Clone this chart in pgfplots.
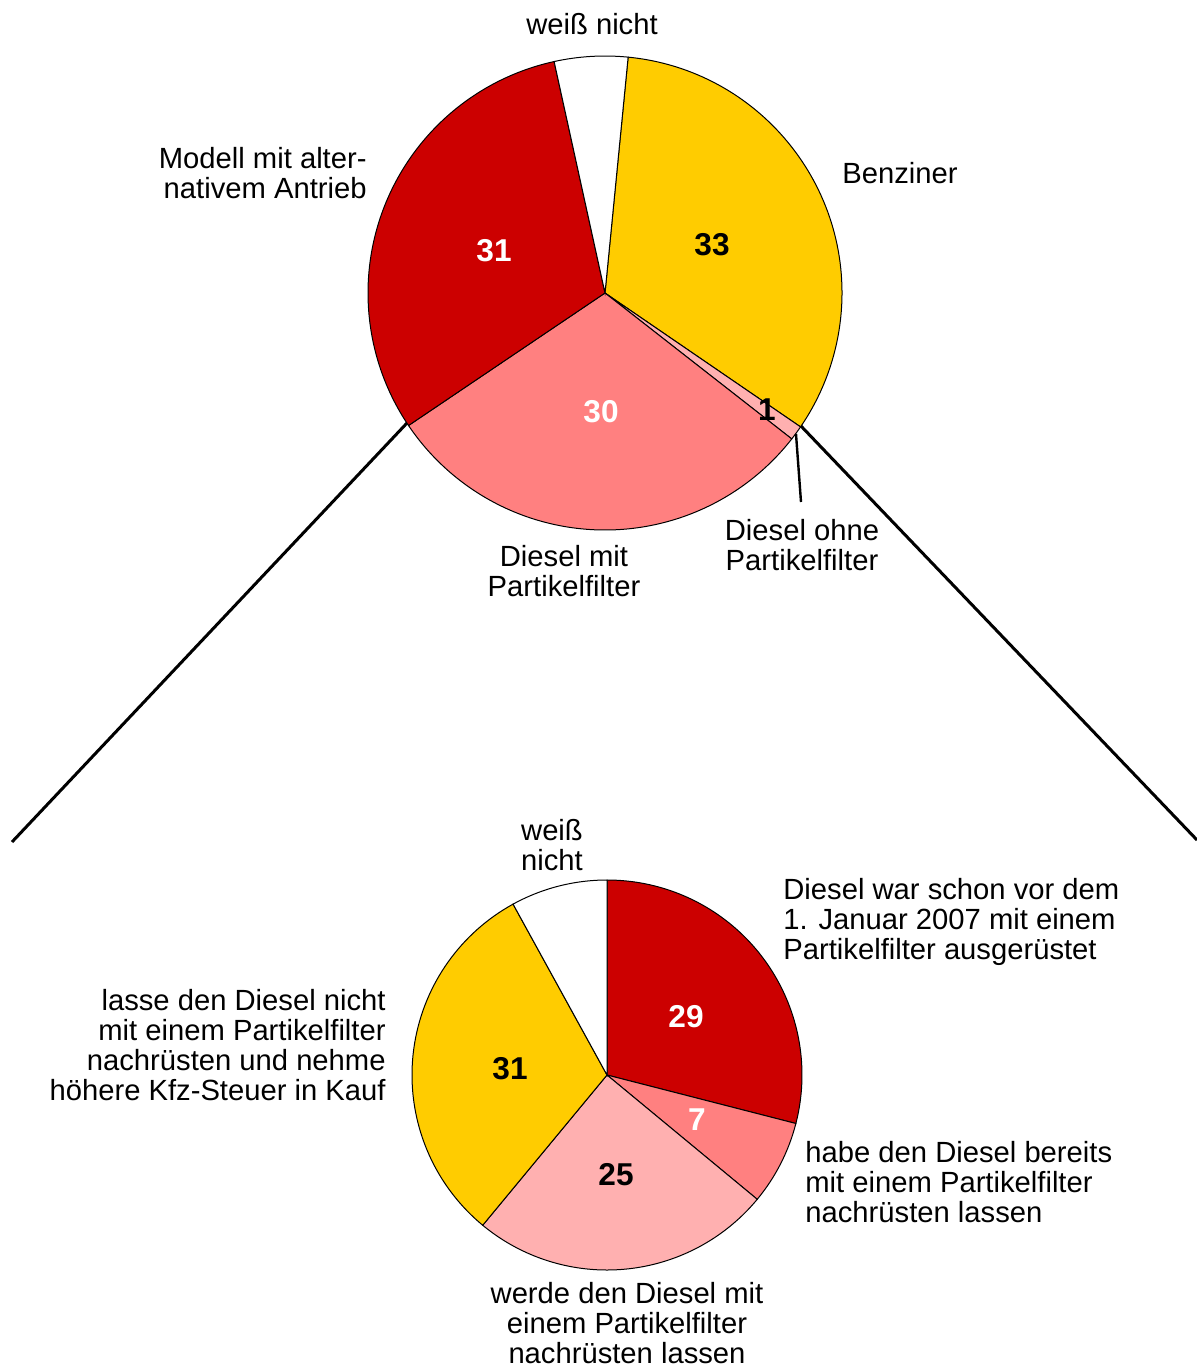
\documentclass[border=0pt]{standalone}
\usepackage{pgfplots}
\pgfplotsset{compat=1.18}
\usepackage{fontspec}
\setmainfont{Liberation Sans}

\definecolor{pred}{HTML}{CC0000}
\definecolor{pyellow}{HTML}{FFCC00}
\definecolor{psalmon}{HTML}{FF8080}
\definecolor{ppink}{HTML}{FFB0B0}

\tikzset{
  lbl/.style={font=\fontsize{14.6}{15}\selectfont, align=center, inner sep=0pt},
  num/.style={font=\fontsize{15.8}{15}\selectfont\bfseries, inner sep=0pt},
}

% one slice per value, clockwise from the start angle
% #1 cx, #2 cy (px), #3 radius (px), #4 start angle, #5 list value/colour
\newcommand\drawpie[5]{%
  \xdef\curang{#4}%
  \foreach \v/\c in {#5} {%
    \pgfmathsetmacro\nextang{\curang-3.6*\v}%
    \edef\temp{\noexpand\filldraw[fill=\c, draw=black, line width=0.5pt]
      (axis cs:#1,#2) -- ++(\curang:#3*0.5pt)
      arc[start angle=\curang, end angle=\nextang, radius=#3*0.5pt] -- cycle;}%
    \temp
    \global\let\curang\nextang
  }%
}

\begin{document}
\begin{tikzpicture}
\begin{axis}[
  at={(0,0)}, anchor=south west,
  scale only axis,
  width=598.5pt, height=685pt,
  xmin=0, xmax=1197, ymin=0, ymax=1370,
  y dir=reverse,
  axis lines=none,
  clip=false,
]
% connecting lines
\draw[line width=1.5pt] (axis cs:407,423) -- (axis cs:12,842);
\draw[line width=1.5pt] (axis cs:800,425) -- (axis cs:1197,840);

% upper pie: Benziner, Diesel ohne, Diesel mit, alternativer Antrieb, weiss nicht
\drawpie{605}{293}{237}{84.4}{33/pyellow, 1/ppink, 30/psalmon, 31/pred, 5/white}
% lower pie
\drawpie{607}{1075}{195}{90}{29/pred, 7/psalmon, 25/ppink, 31/pyellow, 8/white}

\draw[line width=1.2pt] (axis cs:796,434) -- (axis cs:801,502);

% labels upper pie
\node[lbl] at (axis cs:592,24) {weiß nicht};
\node[lbl, anchor=east, align=right] at (axis cs:367,173) {Modell mit alter-\\nativem Antrieb};
\node[lbl, anchor=west] at (axis cs:842,173) {Benziner};
\node[lbl] at (axis cs:564,571) {Diesel mit\\Partikelfilter};
\node[lbl] at (axis cs:802,545) {Diesel ohne\\Partikelfilter};
\node[num] at (axis cs:712,245) {33};
\node[num, text=white] at (axis cs:494,251) {31};
\node[num, text=white] at (axis cs:601,412) {30};
\node[num] at (axis cs:767,410) {1};

% labels lower pie
\node[lbl] at (axis cs:552,845) {weiß\\nicht};
\node[lbl, anchor=west, align=left] at (axis cs:783,922) {Diesel war schon vor dem\\1. Januar 2007 mit einem\\Partikelfilter ausgerüstet};
\node[lbl, anchor=east, align=right] at (axis cs:386,1045) {lasse den Diesel nicht\\mit einem Partikelfilter\\nachrüsten und nehme\\höhere Kfz-Steuer in Kauf};
\node[lbl, anchor=west, align=left] at (axis cs:805,1182) {habe den Diesel bereits\\mit einem Partikelfilter\\nachrüsten lassen};
\node[lbl] at (axis cs:627,1323) {werde den Diesel mit\\einem Partikelfilter\\nachrüsten lassen};
\node[num, text=white] at (axis cs:686,1017) {29};
\node[num, text=white] at (axis cs:697,1120) {7};
\node[num] at (axis cs:616,1175) {25};
\node[num] at (axis cs:510,1069) {31};
\end{axis}
\pgfresetboundingbox
\path (0,0) rectangle (598.5pt,685pt);
\end{tikzpicture}
\end{document}
